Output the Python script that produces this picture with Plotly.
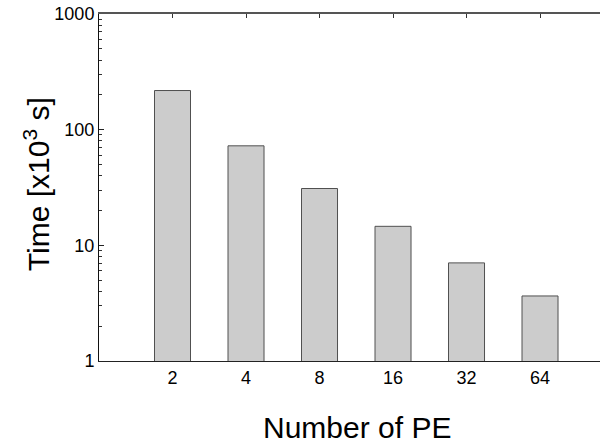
import plotly.graph_objects as go

categories = ["2", "4", "8", "16", "32", "64"]
times = [218, 72.5, 31.0, 14.6, 7.05, 3.65]

fig = go.Figure()
fig.add_trace(go.Bar(
    x=categories, y=times, width=0.49,
    marker=dict(color="#cccccc", line=dict(color="#505050", width=1)),
    xaxis="x", yaxis="y",
))
# invisible trace for top axis
fig.add_trace(go.Scatter(x=[0], y=[1], xaxis="x2", yaxis="y", mode="markers",
                         marker=dict(opacity=0), hoverinfo="skip", showlegend=False))

xr = [-1, 5.816]
font = dict(family="Liberation Sans, Arial, Helvetica, sans-serif", color="#000000")

fig.update_layout(
    width=600, height=446,
    margin=dict(l=99, r=0, t=14, b=85),
    plot_bgcolor="white", paper_bgcolor="white",
    showlegend=False,
    font=font,
    xaxis=dict(
        type="category", range=xr, automargin=False,
        showline=True, linecolor="#222222", linewidth=1,
        ticks="", showgrid=False, zeroline=False,
        tickfont=dict(size=18),
    ),
    xaxis2=dict(
        overlaying="x", side="top", type="linear", range=xr, automargin=False,
        showline=True, linecolor="#555555", linewidth=2,
        tickvals=[0, 1, 2, 3, 4, 5], ticks="inside", ticklen=4,
        tickcolor="#333333", showticklabels=False, showgrid=False, zeroline=False,
    ),
    yaxis=dict(
        type="log", range=[0, 3], automargin=False,
        showline=True, linecolor="#111111", linewidth=1,
        tickvals=[1, 10, 100, 1000], ticktext=["1", "10", "100", "1000"],
        ticks="inside", ticklen=5, tickcolor="#222222",
        minor=dict(ticks="inside", ticklen=2.5, tickcolor="#333333",
                   tickvals=[m * 10 ** d for d in range(3) for m in range(2, 10)]),
        showgrid=False, zeroline=False,
        tickfont=dict(size=18),
    ),
    annotations=[
        dict(text="Number of PE", xref="paper", yref="paper",
             x=(357 - 99) / 501, y=-(427 - 360.7) / 346.7, xanchor="center", yanchor="middle",
             showarrow=False, font=dict(size=30)),
        dict(text="Time [x10<sup>3</sup> s]", xref="paper", yref="paper",
             x=-(99 - 37) / 501, y=(360.7 - 184) / 346.7, xanchor="center", yanchor="middle",
             textangle=-90, showarrow=False, font=dict(size=30)),
    ],
)

fig.write_html(
    "out.html",
    config={"displayModeBar": False},
    post_script="document.body.style.margin='0';document.body.style.overflow='hidden';",
)
